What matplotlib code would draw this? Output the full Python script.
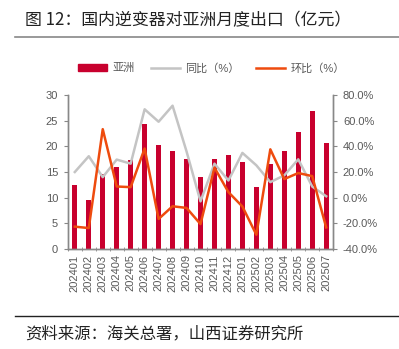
import numpy as np
import matplotlib
matplotlib.use('Agg')
import matplotlib.pyplot as plt
from matplotlib.patches import Patch
from matplotlib.lines import Line2D
from matplotlib.ticker import FuncFormatter, FixedLocator

plt.rcParams['font.family'] = ['Liberation Sans', 'Noto Sans CJK SC']

months = ['202401', '202402', '202403', '202404', '202405', '202406', '202407',
          '202408', '202409', '202410', '202411', '202412', '202501', '202502',
          '202503', '202504', '202505', '202506', '202507']
asia = [12.5, 9.6, 14.5, 16.0, 17.4, 24.4, 20.2, 19.0, 17.6, 14.0,
        17.5, 18.3, 16.9, 12.0, 16.6, 19.0, 22.7, 26.8, 20.7]
yoy = [19.9, 32.2, 15.9, 29.6, 26.4, 68.8, 59.1, 71.6, 36.0, -3.0,
       26.4, 13.3, 34.8, 25.1, 12.0, 17.3, 29.8, 8.6, 1.0]
mom = [-22.7, -23.8, 53.3, 8.6, 8.1, 38.2, -16.7, -6.8, -8.1, -20.7,
       23.3, 4.2, -7.0, -29.0, 37.6, 14.4, 19.1, 16.7, -23.3]

bar_c = '#C8002E'
yoy_c = '#C4C4C4'
mom_c = '#EE4B0E'
axis_c = '#888888'
text_c = '#595959'

fig = plt.figure(figsize=(3.99, 3.49), dpi=100)
ax = fig.add_axes([0.170, 0.287, 0.665, 0.441])
ax2 = ax.twinx()

x = np.arange(len(months))
ax.bar(x, asia, width=0.34, color=bar_c, zorder=2)
ax2.plot(x, yoy, color=yoy_c, lw=1.8, zorder=3)
ax2.plot(x, mom, color=mom_c, lw=1.8, zorder=4)

ax.set_xlim(-0.5, len(months) - 0.5)
ax.set_ylim(0, 30)
ax.set_yticks(range(0, 31, 5))
ax2.set_ylim(-40, 80)
ax2.set_yticks(range(-40, 81, 20))
ax2.yaxis.set_major_formatter(FuncFormatter(lambda v, p: f'{v:.1f}%'))

ax.set_xticks(x)
ax.set_xticklabels(months, rotation=90, fontsize=8, color=text_c)
ax.xaxis.set_minor_locator(FixedLocator(np.arange(-0.5, len(months), 1)))
ax.tick_params(axis='x', which='major', length=0, pad=4)
ax.tick_params(axis='x', which='minor', length=3, color=axis_c, direction='inout')
ax.tick_params(axis='y', labelsize=8, colors=text_c, length=3, pad=4)
ax2.tick_params(axis='y', labelsize=8, colors=text_c, length=3, pad=4)
for a in (ax, ax2):
    a.spines['top'].set_visible(False)
    for s in ('left', 'right', 'bottom'):
        a.spines[s].set_color(axis_c)
        a.spines[s].set_linewidth(1.0)
ax.tick_params(axis='y', color=axis_c)
ax2.tick_params(axis='y', color=axis_c)

handles = [Patch(color=bar_c), Line2D([], [], color=yoy_c, lw=1.8),
           Line2D([], [], color=mom_c, lw=1.8)]
fig.legend(handles, ['亚洲', '同比（%）', '环比（%）'], loc='center',
           bbox_to_anchor=(0.53, 0.805), ncol=3, frameon=False, fontsize=8,
           handlelength=2.6, handleheight=0.5, columnspacing=1.5,
           handletextpad=0.5, labelcolor=text_c)

fig.text(0.063, 0.942, '图 12：国内逆变器对亚洲月度出口（亿元）', fontsize=12.2,
         color='#222222', va='center', family=['Noto Sans CJK SC'])
fig.add_artist(Line2D([0.038, 1.0], [0.894, 0.894], color='#888888', lw=1.2))
fig.add_artist(Line2D([0.038, 1.0], [0.095, 0.095], color='#222222', lw=1.0))
fig.text(0.063, 0.042, '资料来源：海关总署，山西证券研究所', fontsize=11.8,
         color='#222222', va='center', family=['Noto Sans CJK SC'])

fig.savefig('out.png', dpi=100)
